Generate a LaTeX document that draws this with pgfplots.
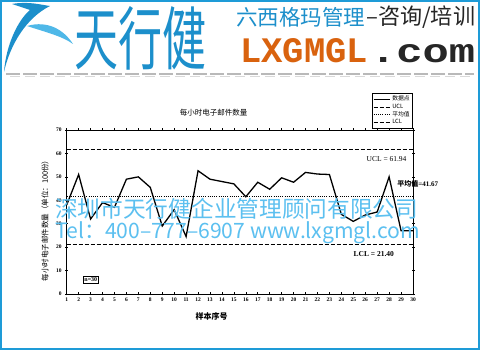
\documentclass[border=0pt]{standalone}
\usepackage{fontspec}
\usepackage{pgfplots}
\pgfplotsset{compat=1.18}
\setmainfont{Liberation Serif}
\newfontfamily\cjk{Noto Sans CJK SC}
\newfontfamily\monob{Liberation Mono}
\definecolor{borderblue}{HTML}{1E9BD7}
\definecolor{wm}{HTML}{5CC0F0}
\definecolor{logoblue}{HTML}{1C8FCB}
\definecolor{lightlogo}{HTML}{4FB8E8}
\definecolor{orng}{HTML}{D9620E}
\begin{document}
\begin{tikzpicture}[x=1pt,y=1pt]
\fill[white] (0,0) rectangle (480,350);
% ---------- header ----------
\fill[logoblue] (12,346) .. controls (28,349) and (42,345) .. (50,344)
  .. controls (26,332) and (10,305) .. (4,278)
  .. controls (6,305) and (18,330) .. (30,340)
  .. controls (24,342) and (18,344) .. (12,346) -- cycle;
\fill[lightlogo] (27,324) .. controls (48,330) and (64,320) .. (73,306)
  .. controls (62,314) and (45,318) .. (27,324) -- cycle;
\node[anchor=west, inner sep=0pt, text=logoblue] at (74,312)
  {\resizebox{132pt}{58pt}{\cjk 天行健}};
\node[anchor=west, inner sep=0pt, text=logoblue] at (236,333)
  {\resizebox{129pt}{!}{\cjk 六西格玛管理}};
\node[anchor=west, inner sep=0pt, text=black!85] at (366,333)
  {\resizebox{109pt}{!}{\cjk –咨询/培训}};
\node[anchor=west, inner sep=0pt, text=orng] at (240,299)
  {\resizebox{128pt}{24pt}{\monob\bfseries LXGMGL}};
\node[anchor=west, inner sep=0pt, text=black!85] at (370,296)
  {\resizebox{105pt}{18pt}{\monob\bfseries .com}};
\draw[gray!55, line width=1.2pt, dash pattern=on 14pt off 3pt] (6,276) -- (474,276);
\draw[gray!30, line width=0.8pt, dash pattern=on 10pt off 5pt] (10,273.5) -- (474,273.5);
% ---------- chart ----------
\begin{axis}[at={(66.7pt,56pt)}, anchor=south west, scale only axis,
  width=346.3pt, height=164pt,
  xmin=1, xmax=30, ymin=0, ymax=70,
  xtick={1,...,30}, ytick={0,10,...,70},
  tick align=center, major tick length=3pt,
  axis line style={line width=0.8pt},
  tick style={line width=0.6pt, black},
  /pgf/number format/assume math mode=true,
  tick label style={font=\fontsize{5.5}{6}\selectfont\bfseries},
  xticklabel style={yshift=1pt},
  clip=false,
  legend style={at={(1,1.227)}, anchor=north east,
    font=\cjk\fontsize{5.8}{6}\selectfont, draw=black, line width=0.7pt,
    inner sep=1pt, row sep=-2.5pt, cells={anchor=west}},
  legend image code/.code={\draw[#1] (0pt,0pt) -- (16pt,0pt);},
]
\addplot[black, line width=1.3pt] coordinates {
(1,38) (2,51) (3,32) (4,39) (5,37) (6,49) (7,50) (8,45.5) (9,29) (10,36)
(11,24.5) (12,52.6) (13,49) (14,48) (15,47) (16,41.5) (17,47.7) (18,44.7) (19,49.6) (20,47.7)
(21,51.9) (22,51.2) (23,51) (24,34) (25,31) (26,33.7) (27,35) (28,50) (29,27) (30,27)};
\addlegendentry{数据点}
\addplot[black, line width=0.6pt, dash pattern=on 4pt off 2pt] coordinates {(1,61.94) (30,61.94)};
\addlegendentry{UCL}
\addplot[black, line width=0.6pt, dash pattern=on 1pt off 1.2pt] coordinates {(1,41.67) (30,41.67)};
\addlegendentry{平均值}
\addplot[black, line width=0.6pt, dash pattern=on 4pt off 2pt] coordinates {(1,21.40) (30,21.40)};
\addlegendentry{LCL}
\node[anchor=east, font=\fontsize{7.5}{8}\selectfont] at (axis cs:29.75,57.6) {UCL = 61.94};
\node[anchor=west, inner sep=0pt, font=\fontsize{7}{8}\selectfont\bfseries] at (axis cs:28.68,46.9) {{\cjk 平均值}=41.67};
\node[anchor=east, font=\fontsize{7.5}{8}\selectfont\bfseries] at (axis cs:28.7,17.1) {LCL = 21.40};
\node[draw, line width=0.7pt, inner sep=1.3pt, font=\fontsize{6}{7}\selectfont\bfseries] at (axis cs:3.02,6.0) {n=30};
\end{axis}
\node[font=\cjk\fontsize{7.5}{8}\selectfont] at (213.5,237) {每小时电子邮件数量};
\node[rotate=90, font=\cjk\fontsize{7.5}{8}\selectfont] at (45,131) {每小时电子邮件数量（单位：100份）};
\node[font=\cjk\fontsize{8}{9}\selectfont\bfseries] at (211.5,34) {样本序号};
% ---------- watermark ----------
\node[anchor=west, inner sep=0pt, text=wm] at (55,141)
  {\resizebox{363pt}{!}{\cjk 深圳市天行健企业管理顾问有限公司}};
\node[anchor=west, inner sep=0pt, text=wm] at (55,117)
  {\resizebox{365pt}{!}{\cjk Tel：400–777–6907 www.lxgmgl.com}};
% ---------- border ----------
\draw[borderblue, line width=1.6pt] (0.8,0.8) rectangle (479.2,349.2);
\end{tikzpicture}
\end{document}
